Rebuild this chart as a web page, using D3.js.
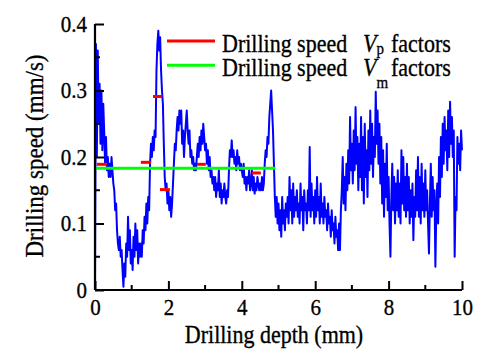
<!DOCTYPE html>
<html>
<head>
<meta charset="utf-8">
<script src="https://d3js.org/d3.v7.min.js"></script>
<style>
  body { margin: 0; background: #fff; }
</style>
</head>
<body>
<svg id="chart" width="492" height="360"></svg>
<script>
// blue trace, one value every 0.025 mm (groups of 0.25 mm)
const depthStep = 0.025;
const speed = [
  0.00, 0.37, 0.20, 0.36, 0.25, 0.31, 0.22, 0.30, 0.21, 0.28,
  0.24, 0.19, 0.23, 0.18, 0.20, 0.17, 0.19, 0.17, 0.20, 0.18,
  0.16, 0.15, 0.12, 0.13, 0.09, 0.07, 0.06, 0.08, 0.05, 0.06,
  0.03, 0.005, 0.04, 0.02, 0.07, 0.05, 0.11, 0.06, 0.09, 0.04,
  0.06, 0.03, 0.08, 0.05, 0.10, 0.06, 0.09, 0.04, 0.07, 0.05,
  0.07, 0.05, 0.09, 0.07, 0.11, 0.09, 0.13, 0.10, 0.14, 0.12,
  0.19, 0.22, 0.20, 0.23, 0.21, 0.24, 0.23, 0.33, 0.37, 0.39,
  0.36, 0.38, 0.33, 0.30, 0.28, 0.22, 0.17, 0.15, 0.16, 0.13,
  0.15, 0.12, 0.14, 0.11, 0.13, 0.16, 0.19, 0.22, 0.21, 0.24,
  0.26, 0.24, 0.27, 0.25, 0.27, 0.22, 0.24, 0.20, 0.23, 0.25,
  0.27, 0.24, 0.22, 0.24, 0.20, 0.21, 0.19, 0.20, 0.18, 0.19,
  0.18, 0.20, 0.22, 0.20, 0.23, 0.21, 0.24, 0.22, 0.25, 0.23,
  0.21, 0.22, 0.19, 0.21, 0.18, 0.20, 0.17, 0.18, 0.16, 0.17,
  0.15, 0.17, 0.14, 0.16, 0.15, 0.18, 0.14, 0.16, 0.13, 0.15,
  0.14, 0.16, 0.14, 0.13, 0.15, 0.14, 0.18, 0.21, 0.20, 0.225,
  0.20, 0.21, 0.19, 0.20, 0.18, 0.21, 0.19, 0.20, 0.18, 0.19,
  0.18, 0.17, 0.19, 0.16, 0.17, 0.15, 0.17, 0.16, 0.18, 0.15,
  0.16, 0.18, 0.15, 0.17, 0.145, 0.16, 0.15, 0.17, 0.16, 0.15,
  0.16, 0.15, 0.17, 0.15, 0.16, 0.19, 0.21, 0.20, 0.23, 0.22,
  0.26, 0.28, 0.30, 0.27, 0.24, 0.19, 0.14, 0.11, 0.14, 0.10,
  0.13, 0.09, 0.12, 0.08, 0.14, 0.10, 0.12, 0.09, 0.13, 0.11,
  0.14, 0.10, 0.17, 0.12, 0.15, 0.10, 0.16, 0.11, 0.14, 0.12,
  0.15, 0.11, 0.13, 0.10, 0.16, 0.12, 0.14, 0.09, 0.15, 0.12,
  0.13, 0.10, 0.15, 0.12, 0.215, 0.11, 0.16, 0.12, 0.14, 0.10,
  0.15, 0.11, 0.17, 0.12, 0.14, 0.10, 0.16, 0.11, 0.13, 0.10,
  0.14, 0.11, 0.12, 0.09, 0.13, 0.10, 0.11, 0.08, 0.12, 0.09,
  0.10, 0.07, 0.11, 0.08, 0.09, 0.06, 0.10, 0.06, 0.12, 0.15,
  0.20, 0.13, 0.17, 0.12, 0.19, 0.15, 0.21, 0.16, 0.26, 0.18,
  0.22, 0.16, 0.24, 0.18, 0.275, 0.19, 0.23, 0.15, 0.22, 0.17,
  0.26, 0.15, 0.23, 0.13, 0.25, 0.17, 0.21, 0.14, 0.24, 0.18,
  0.27, 0.19, 0.25, 0.17, 0.23, 0.20, 0.298, 0.22, 0.27, 0.19,
  0.25, 0.16, 0.23, 0.13, 0.21, 0.11, 0.19, 0.14, 0.22, 0.12,
  0.17, 0.10, 0.05, 0.14, 0.19, 0.12, 0.17, 0.10, 0.16, 0.12,
  0.18, 0.11, 0.16, 0.10, 0.21, 0.13, 0.20, 0.12, 0.17, 0.11,
  0.19, 0.12, 0.17, 0.10, 0.15, 0.11, 0.16, 0.075, 0.14, 0.11,
  0.18, 0.12, 0.20, 0.11, 0.17, 0.10, 0.19, 0.12, 0.16, 0.11,
  0.18, 0.12, 0.15, 0.10, 0.055, 0.13, 0.19, 0.11, 0.17, 0.12,
  0.15, 0.035, 0.12, 0.16, 0.10, 0.20, 0.14, 0.23, 0.17, 0.25,
  0.19, 0.26, 0.21, 0.24, 0.18, 0.27, 0.20, 0.283, 0.22, 0.26,
  0.20, 0.24, 0.05, 0.14, 0.12, 0.23, 0.19, 0.22, 0.18, 0.24,
  0.21
];

// short red marks: Vp factors
const redStart = [0.05, 1.25, 1.58, 1.77, 2.78, 4.28];
const redEnd   = [0.33, 1.53, 1.83, 2.04, 3.02, 4.52];
const redValue = [0.189, 0.192, 0.291, 0.151, 0.189, 0.176];

// green line: Vm factor
const greenStart = 0, greenEnd = 4.92, greenValue = 0.183;

const xTicks = [0, 2, 4, 6, 8, 10];
const xMinor = [1, 3, 5, 7, 9];
const yTicks = [0, 0.1, 0.2, 0.3, 0.4];
const yMinor = [0.05, 0.15, 0.25, 0.35];

const font = "Liberation Serif";
const svg = d3.select("#chart");
const m = {left: 95, right: 30, top: 24, bottom: 70};
const W = 492, H = 360;

const x = d3.scaleLinear([0, 10], [m.left, W - m.right]);
const y = d3.scaleLinear([0, 0.4], [H - m.bottom, m.top]);

const stretch = "scale(1,1.12)";

// data
const line = d3.line()
  .x((d, i) => x(i * depthStep))
  .y(d => y(d));

svg.append("path")
  .datum(speed)
  .attr("d", line)
  .attr("fill", "none")
  .attr("stroke", "#0000ff")
  .attr("stroke-width", 2)
  .attr("stroke-linejoin", "round");

svg.append("line")
  .attr("x1", x(greenStart)).attr("x2", x(greenEnd))
  .attr("y1", y(greenValue)).attr("y2", y(greenValue))
  .attr("stroke", "#00ff00").attr("stroke-width", 3);

svg.selectAll(".red")
  .data(redValue)
  .join("line")
  .attr("class", "red")
  .attr("x1", (d, i) => x(redStart[i]))
  .attr("x2", (d, i) => x(redEnd[i]))
  .attr("y1", d => y(d)).attr("y2", d => y(d))
  .attr("stroke", "#ff0000").attr("stroke-width", 3);

// axes, ticks point inward
const xAxis = svg.append("g")
  .attr("transform", `translate(0,${H - m.bottom})`)
  .call(d3.axisBottom(x).tickValues(xTicks).tickSize(-9).tickFormat(d3.format("~g")));
xAxis.selectAll(".minor").data(xMinor).join("line")
  .attr("x1", d => x(d)).attr("x2", d => x(d))
  .attr("y1", 0).attr("y2", -5).attr("stroke", "#000").attr("stroke-width", 2);

const yAxis = svg.append("g")
  .attr("transform", `translate(${m.left},0)`)
  .call(d3.axisLeft(y).tickValues(yTicks).tickSize(-9).tickFormat(d3.format("~g")));
yAxis.selectAll(".minor").data(yMinor).join("line")
  .attr("x1", 0).attr("x2", 5)
  .attr("y1", d => y(d)).attr("y2", d => y(d))
  .attr("stroke", "#000").attr("stroke-width", 2);

[xAxis, yAxis].forEach(g => {
  g.attr("font-family", font);
  g.select(".domain").attr("stroke", "#000").attr("stroke-width", 2.2)
    .attr("d", g === xAxis ? `M${m.left},0H${W - m.right}` : `M0,${m.top}V${H - m.bottom}`);
  g.selectAll(".tick line").attr("stroke", "#000").attr("stroke-width", 2);
  g.selectAll(".tick text").attr("font-size", 21).attr("fill", "#000")
    .attr("stroke", "#000").attr("stroke-width", 0.3);
});
xAxis.selectAll(".tick text").attr("y", 0).attr("dy", 0)
  .attr("transform", `translate(0,25) ${stretch}`);
yAxis.selectAll(".tick text").attr("x", 0).attr("dy", 0)
  .attr("transform", `translate(-8,7) ${stretch}`);

// axis titles
svg.append("text")
  .attr("transform", `translate(274,343) ${stretch}`)
  .attr("text-anchor", "middle").attr("font-size", 22).attr("font-family", font)
  .attr("stroke", "#000").attr("stroke-width", 0.3)
  .text("Drilling depth (mm)");

svg.append("text")
  .attr("transform", `translate(43,156) rotate(-90) ${stretch}`)
  .attr("text-anchor", "middle").attr("font-size", 23).attr("font-family", font)
  .attr("stroke", "#000").attr("stroke-width", 0.3)
  .text("Drilling speed (mm/s)");

// legend
const legendNames = ["p", "m"];
const legendColors = ["#ff0000", "#00ff00"];
const subShift = [2, 10];
const leg = svg.append("g").attr("font-family", font);
legendNames.forEach((sub, i) => {
  const ly = 41 + i * 24.3;
  leg.append("line")
    .attr("x1", 167).attr("x2", 215).attr("y1", ly).attr("y2", ly)
    .attr("stroke", legendColors[i]).attr("stroke-width", 3);
  const t = leg.append("text")
    .attr("transform", `translate(222,${ly + 10.5 + i * 0.5}) ${stretch}`)
    .attr("font-size", 22).attr("stroke", "#000").attr("stroke-width", 0.3);
  t.append("tspan").text("Drilling speed");
  t.append("tspan").attr("x", 141).attr("font-style", "italic").text("V");
  t.append("tspan").attr("dy", subShift[i]).attr("font-size", 15).text(sub);
  t.append("tspan").attr("x", 169).attr("dy", -subShift[i]).text("factors");
});
</script>
</body>
</html>
